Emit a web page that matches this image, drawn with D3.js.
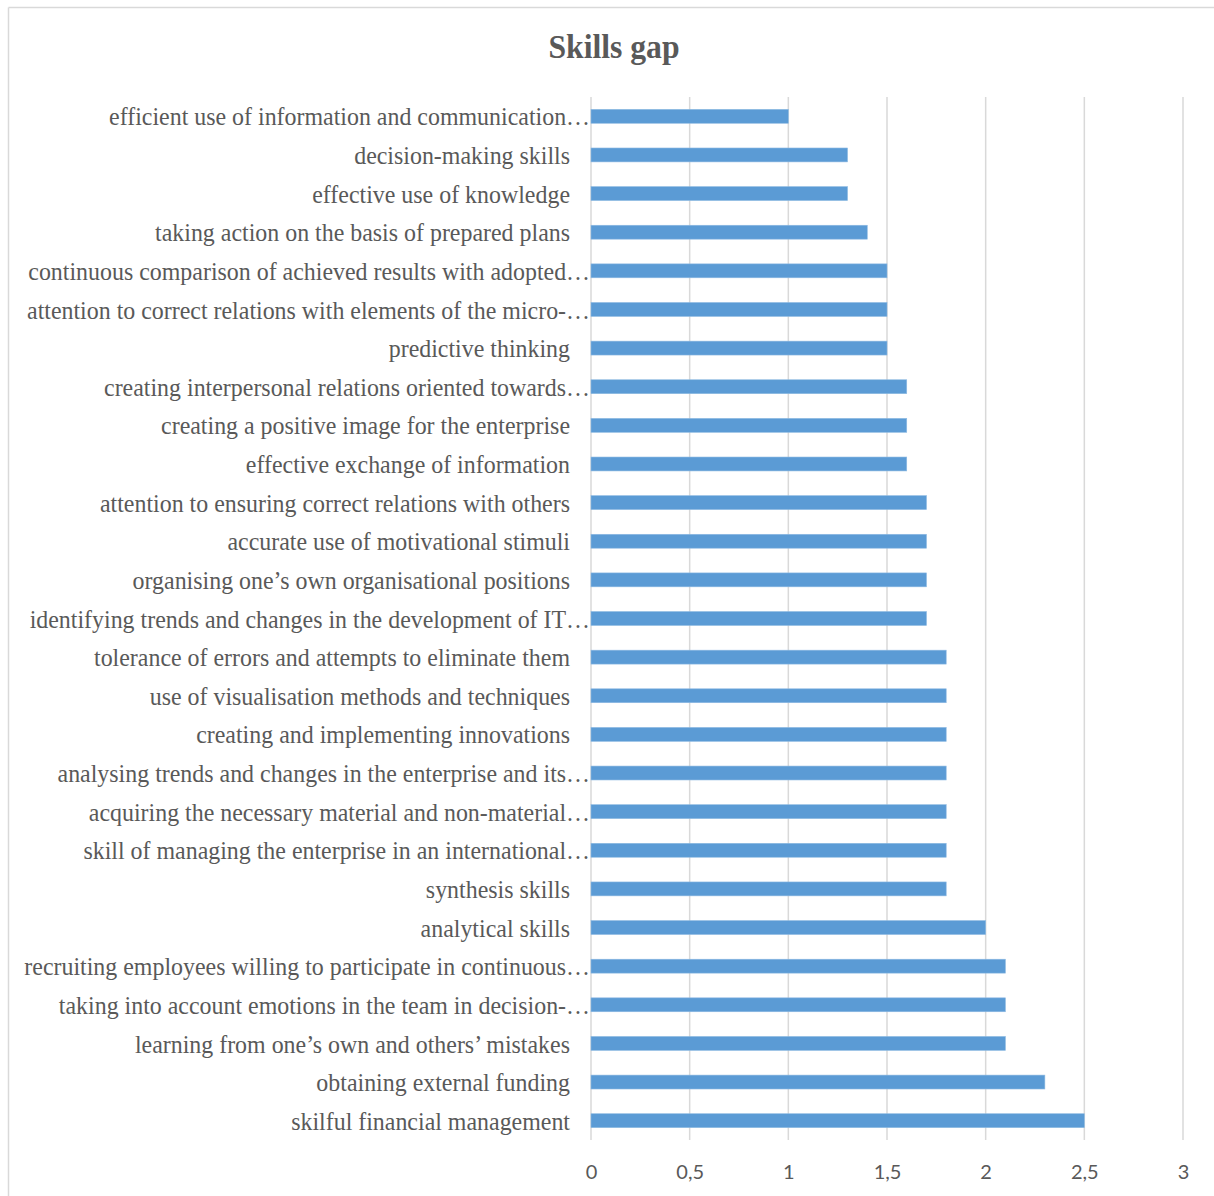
<!DOCTYPE html>
<html>
<head>
<meta charset="utf-8">
<script src="https://cdn.jsdelivr.net/npm/d3@7"></script>
<style>
  html, body { margin: 0; padding: 0; background: #ffffff; }
  svg { display: block; }
</style>
</head>
<body>
<svg id="chart" width="1214" height="1196"></svg>
<script>
const title = "Skills gap";

const categories = [
  "efficient use of information and communication…",
  "decision-making skills",
  "effective use of knowledge",
  "taking action on the basis of prepared plans",
  "continuous comparison of achieved results with adopted…",
  "attention to correct relations with elements of the micro-…",
  "predictive thinking",
  "creating interpersonal relations oriented towards…",
  "creating a positive image for the enterprise",
  "effective exchange of information",
  "attention to ensuring correct relations with others",
  "accurate use of motivational stimuli",
  "organising one’s own organisational positions",
  "identifying trends and changes in the development of IT…",
  "tolerance of errors and attempts to eliminate them",
  "use of visualisation methods and techniques",
  "creating and implementing innovations",
  "analysing trends and changes in the enterprise and its…",
  "acquiring the necessary material and non-material…",
  "skill of managing the enterprise in an international…",
  "synthesis skills",
  "analytical skills",
  "recruiting employees willing to participate in continuous…",
  "taking into account emotions in the team in decision-…",
  "learning from one’s own and others’ mistakes",
  "obtaining external funding",
  "skilful financial management"
];

const values = [
  1.0, 1.3, 1.3, 1.4, 1.5, 1.5, 1.5, 1.6, 1.6, 1.6,
  1.7, 1.7, 1.7, 1.7, 1.8, 1.8, 1.8, 1.8, 1.8, 1.8,
  1.8, 2.0, 2.1, 2.1, 2.1, 2.3, 2.5
];

const tickValues = [0, 0.5, 1, 1.5, 2, 2.5, 3];
const tickLabels = ["0", "0,5", "1", "1,5", "2", "2,5", "3"];

const data = categories.map((c, i) => ({ category: c, value: values[i] }));

const svg = d3.select("#chart");
const textColor = "#595959";
const gridColor = "#d9d9d9";
const barColor = "#5b9bd5";

// chart border (top and left visible)
svg.append("line").attr("x1", 8.5).attr("y1", 7.5).attr("x2", 1214).attr("y2", 7.5)
  .attr("stroke", gridColor).attr("stroke-width", 1.5);
svg.append("line").attr("x1", 8.5).attr("y1", 7.5).attr("x2", 8.5).attr("y2", 1196)
  .attr("stroke", gridColor).attr("stroke-width", 1.5);

const plot = { left: 591, right: 1183, top: 97, bottom: 1140 };

const x = d3.scaleLinear().domain([0, 3]).range([plot.left, plot.right]);
const y = d3.scaleBand().domain(categories)
  .range([plot.top, plot.bottom])
  .paddingInner(0.64).paddingOuter(0.32);

// gridlines
svg.append("g").selectAll("line").data(tickValues).join("line")
  .attr("x1", d => x(d)).attr("x2", d => x(d))
  .attr("y1", plot.top).attr("y2", plot.bottom)
  .attr("stroke", gridColor).attr("stroke-width", 1.5);

// bars
svg.append("g").selectAll("rect").data(data).join("rect")
  .attr("x", x(0))
  .attr("y", d => y(d.category))
  .attr("width", d => x(d.value) - x(0))
  .attr("height", y.bandwidth())
  .attr("fill", barColor)
  .attr("stroke", "#8db9e2")
  .attr("stroke-width", 0.6);

// category labels
svg.append("g").selectAll("text").data(data).join("text")
  .attr("transform", d => {
    const xr = d.category.endsWith("…") ? 590 : 570;
    const yc = y(d.category) + y.bandwidth() / 2;
    return `translate(${xr},${yc}) scale(0.92,1)`;
  })
  .attr("text-anchor", "end")
  .attr("dy", "0.35em")
  .attr("font-family", "'Liberation Serif', 'Times New Roman', serif")
  .attr("font-size", 26)
  .attr("fill", textColor)
  .text(d => d.category);

// x axis tick labels
const xAxis = d3.axisBottom(x).tickValues(tickValues)
  .tickFormat((d, i) => tickLabels[i]).tickSize(0).tickPadding(0);
const axisG = svg.append("g")
  .attr("transform", `translate(0,${plot.bottom})`)
  .call(xAxis);
axisG.select(".domain").remove();
axisG.selectAll("text")
  .attr("y", 39)
  .attr("dy", null)
  .attr("font-family", "Lato, 'Open Sans', sans-serif")
  .attr("font-size", 20)
  .attr("fill", textColor);

// title
svg.append("text")
  .attr("transform", "translate(614,58) scale(0.96,1)")
  .attr("text-anchor", "middle")
  .attr("font-family", "'Liberation Serif', 'Times New Roman', serif")
  .attr("font-weight", "bold")
  .attr("font-size", 33)
  .attr("fill", textColor)
  .text(title);
</script>
</body>
</html>
